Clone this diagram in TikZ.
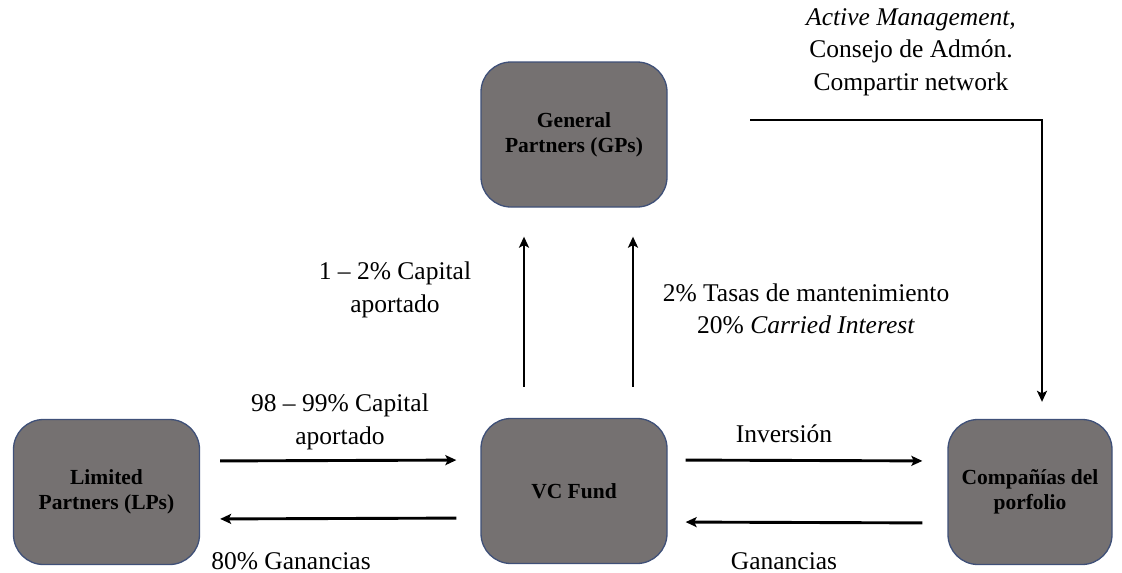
\documentclass[tikz,border=0pt]{standalone}
\usepackage{fontspec}
\setmainfont{Liberation Serif}
\usetikzlibrary{arrows.meta}
\definecolor{boxfill}{HTML}{757171}
\definecolor{boxline}{HTML}{3F5078}
\tikzset{
  boxnode/.style={draw=boxline, line width=1.3pt, fill=boxfill, rounded corners=30pt,
    minimum width=186pt, minimum height=145pt, align=center, inner sep=0pt,
    font=\fontsize{21.5}{25}\selectfont\bfseries},
  conn/.style={line width=2.9pt, -{Stealth[length=11pt,width=10pt,inset=2.5pt]}},
  lbl/.style={align=center, inner sep=0pt, font=\fontsize{25.5}{32.5}\selectfont}
}
\begin{document}
\begin{tikzpicture}[x=1pt,y=-1pt]
\useasboundingbox (0,0) rectangle (1122,573);
\node[boxnode] (GP) at (574,134.5) {General\\Partners (GPs)};
\node[boxnode] (LP) at (106.5,492) {Limited\\Partners (LPs)};
\node[boxnode] (VC) at (574,491) {VC Fund};
\node[boxnode, minimum width=164pt] (CO) at (1030,492) {Compañías del\\porfolio};

\coordinate (start) at (750,120);
\draw[conn] (start) -| ([xshift=12pt]CO.north) [shorten >=17pt];

\draw[conn, shorten <=20pt, shorten >=24pt] ([yshift=31pt]LP.east) -- ([yshift=31pt]VC.west);
\draw[conn, shorten <=24pt, shorten >=20pt] ([yshift=-27pt]VC.west) -- ([yshift=-27pt]LP.east);
\draw[conn, shorten <=18pt, shorten >=25pt] ([yshift=31pt]VC.east) -- ([yshift=31pt]CO.west);
\draw[conn, shorten <=25pt, shorten >=18pt] ([yshift=-31pt]CO.west) -- ([yshift=-31pt]VC.east);
\draw[conn, shorten <=31pt, shorten >=29pt] ([xshift=-50pt]VC.north) -- ([xshift=-50pt]GP.south);
\draw[conn, shorten <=31pt, shorten >=29pt] ([xshift=59pt]VC.north) -- ([xshift=59pt]GP.south);

\node[lbl] (t1) at (911,52) {\textit{Active Management,}\\Consejo de Admón.\\Compartir network};
\node[lbl] (t2) at (395,290) {1 – 2\% Capital\\aportado};
\node[lbl] (t3) at (806,309) {2\% Tasas de mantenimiento\\20\% \textit{Carried Interest}};
\node[lbl] (t4) at (340,422) {98 – 99\% Capital\\aportado};
\node[lbl] (t5) at (784,434) {Inversión};
\node[lbl] (t6) at (291,561) {80\% Ganancias};
\node[lbl] (t7) at (784,561) {Ganancias};
\end{tikzpicture}
\end{document}
